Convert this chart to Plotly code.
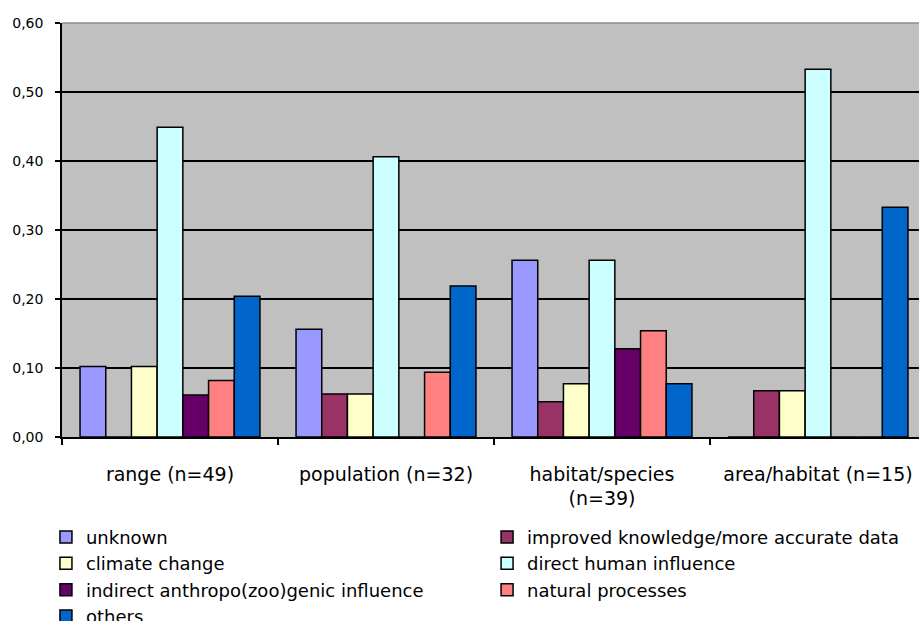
import plotly.graph_objects as go

# Share of records per reason of change, by parameter type
categories = ["range (n=49)", "population (n=32)", "habitat/species<br>(n=39)", "area/habitat (n=15)"]

unknown = [0.102, 0.156, 0.256, 0.0]
improved_knowledge = [0.0, 0.0625, 0.051, 0.067]
climate_change = [0.102, 0.0625, 0.077, 0.067]
direct_human = [0.449, 0.406, 0.256, 0.533]
indirect_anthropogenic = [0.061, 0.0, 0.128, 0.0]
natural_processes = [0.082, 0.094, 0.154, 0.0]
others = [0.204, 0.219, 0.077, 0.333]

# (name, values, colour, legend column)
series = [
    ("unknown", unknown, "#9999FF", "legend"),
    ("improved knowledge/more accurate data", improved_knowledge, "#993366", "legend2"),
    ("climate change", climate_change, "#FFFFCC", "legend"),
    ("direct human influence", direct_human, "#CCFFFF", "legend2"),
    ("indirect anthropo(zoo)genic influence", indirect_anthropogenic, "#660066", "legend"),
    ("natural processes", natural_processes, "#FF8080", "legend2"),
    ("others", others, "#0066CC", "legend"),
]

y_ticks = [0.0, 0.1, 0.2, 0.3, 0.4, 0.5, 0.6]

FONT = "DejaVu Sans"

fig = go.Figure()
for name, values, color, legend_id in series:
    fig.add_trace(go.Bar(
        x=categories,
        y=values,
        name=name,
        legend=legend_id,
        marker=dict(color=color, line=dict(color="black", width=1.5)),
    ))

# each legend is one column: entries are wider than half the page, so they stack
legend_style = dict(
    orientation="h",
    xref="container",
    yref="container",
    xanchor="left",
    y=0.1647,
    yanchor="top",
    entrywidth=425,
    entrywidthmode="pixels",
    traceorder="normal",
    font=dict(family=FONT, size=18, color="black"),
    bgcolor="rgba(0,0,0,0)",
    itemwidth=30,
    tracegroupgap=0,
)

fig.update_layout(
    width=919,
    height=621,
    margin=dict(l=62, r=0, t=23, b=184),
    paper_bgcolor="white",
    plot_bgcolor="#C0C0C0",
    separators=",.",
    barmode="group",
    bargap=0.167,
    bargroupgap=0,
    font=dict(family=FONT, color="black"),
    showlegend=True,
    legend=dict(legend_style, x=0.05),
    legend2=dict(legend_style, x=0.530),
)

fig.update_xaxes(
    type="category",
    range=[-0.5, 3.4676],
    showline=True,
    linecolor="black",
    linewidth=1.5,
    ticks="outside",
    tickson="boundaries",
    ticklen=6,
    tickcolor="black",
    tickwidth=1.5,
    tickfont=dict(family=FONT, size=19, color="black"),
    ticklabelstandoff=19,
    showgrid=False,
)

fig.update_yaxes(
    range=[0, 0.6],
    tickvals=y_ticks,
    tickformat=".2f",
    showline=True,
    linecolor="black",
    linewidth=1.5,
    ticks="outside",
    ticklen=5,
    tickcolor="black",
    tickwidth=1.5,
    tickfont=dict(family=FONT, size=14, color="black"),
    ticklabelstandoff=9,
    showgrid=True,
    gridcolor="black",
    gridwidth=1.5,
    zeroline=False,
)

# lighter top border of the plotting area
fig.add_shape(type="line", xref="paper", yref="paper", x0=0, x1=1, y0=1, y1=1,
              line=dict(color="#8C8C8C", width=1.5), layer="above")

fig.write_html("out.html")
